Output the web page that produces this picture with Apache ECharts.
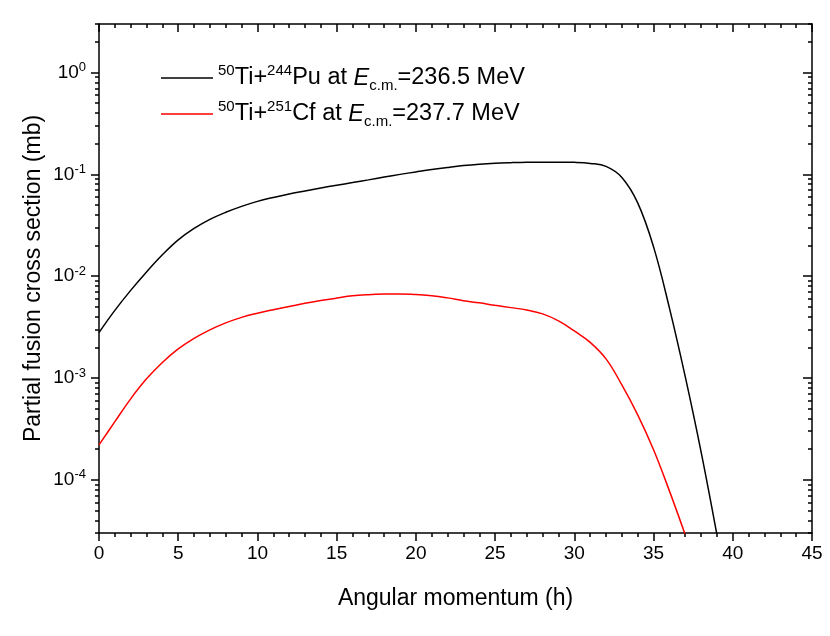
<!DOCTYPE html>
<html>
<head>
<meta charset="utf-8">
<script src="https://cdn.jsdelivr.net/npm/echarts@6/dist/echarts.min.js"></script>
<style>
  html, body { margin: 0; padding: 0; background: #fff; }
  #chart { width: 830px; height: 636px; }
</style>
</head>
<body>
<div id="chart"></div>
<script>
"use strict";

/*-----data-----*/
var momentum = [0, 1, 2, 3, 4, 5, 6, 7, 8, 9, 10, 11, 12, 13, 14, 15, 16, 17, 18, 19,
	20, 21, 22, 23, 24, 25, 26, 27, 28, 29, 30, 31, 32, 33, 34, 35, 36, 37, 38, 39];
var tiPu = [2.79e-3, 4.61e-3, 7.25e-3, 1.10e-2, 1.62e-2, 2.27e-2, 2.94e-2, 3.61e-2, 4.24e-2, 4.85e-2,
	5.43e-2, 5.94e-2, 6.43e-2, 6.88e-2, 7.36e-2, 7.83e-2, 8.30e-2, 8.83e-2, 9.42e-2, 0.100,
	0.1057, 0.1115, 0.1169, 0.1219, 0.1258, 0.1286, 0.1303, 0.1315, 0.1318, 0.1318,
	0.1312, 0.1282, 0.1197, 9.33e-2, 5.25e-2, 1.94e-2, 4.88e-3, 1.03e-3, 1.88e-4, 2.88e-5];
var tiCf = [2.20e-4, 3.72e-4, 6.24e-4, 9.8e-4, 1.42e-3, 1.93e-3, 2.45e-3, 2.97e-3, 3.48e-3, 3.94e-3,
	4.33e-3, 4.69e-3, 5.04e-3, 5.41e-3, 5.76e-3, 6.09e-3, 6.41e-3, 6.58e-3, 6.67e-3, 6.70e-3,
	6.59e-3, 6.43e-3, 6.12e-3, 5.74e-3, 5.47e-3, 5.17e-3, 4.91e-3, 4.65e-3, 4.26e-3, 3.64e-3,
	2.90e-3, 2.24e-3, 1.54e-3, 8.55e-4, 4.34e-4, 1.97e-4, 7.78e-5, 2.88e-5];
var majorY = [1e-4, 1e-3, 1e-2, 1e-1, 1];
var minorY = [3e-5, 4e-5, 5e-5, 6e-5, 7e-5, 8e-5, 9e-5,
	2e-4, 3e-4, 4e-4, 5e-4, 6e-4, 7e-4, 8e-4, 9e-4,
	2e-3, 3e-3, 4e-3, 5e-3, 6e-3, 7e-3, 8e-3, 9e-3,
	2e-2, 3e-2, 4e-2, 5e-2, 6e-2, 7e-2, 8e-2, 9e-2,
	0.2, 0.3, 0.4, 0.5, 0.6, 0.7, 0.8, 0.9, 2, 3];
var nameA = '50Ti+244Pu at Ec.m.=236.5 MeV';
var nameB = '50Ti+251Cf at Ec.m.=237.7 MeV';
var legendRich = {};
legendRich[nameA] = '{sup|50}{n|Ti+}{sup|244}{n|Pu at }{it|E}{sub|c.m.}{n|=236.5 MeV}';
legendRich[nameB] = '{sup|50}{n|Ti+}{sup|251}{n|Cf at }{it|E}{sub|c.m.}{n|=237.7 MeV}';

function pairs(xs, ys) {
	return ys.map(function (v, i) { return [xs[i], v]; });
}

var font = 'Liberation Sans, Arial, Helvetica, sans-serif';
var lineCol = '#000';

function yAxisDef(pos, ticks, len, inside, showLine, showLabel) {
	return {
		type: 'log',
		position: pos,
		min: 3e-5,
		max: 3,
		logBase: 10,
		axisLine: { show: showLine, onZero: false, lineStyle: { color: lineCol, width: 1.5 } },
		axisTick: { show: true, inside: inside, length: len, customValues: ticks,
			lineStyle: { color: lineCol, width: 1.5 } },
		axisLabel: {
			show: showLabel,
			customValues: ticks,
			margin: 13,
			fontFamily: font,
			formatter: function (v) {
				var e = Math.round(Math.log(v) / Math.LN10);
				return '{b|10}{s|' + (e < 0 ? '-' + (-e) : e) + '}';
			},
			rich: {
				b: { fontSize: 19, fontFamily: font, color: '#000' },
				s: { fontSize: 13, fontFamily: font, color: '#000', verticalAlign: 'top', padding: [0, 0, 10, 0] }
			}
		},
		splitLine: { show: false }
	};
}

function xAxisDef(pos, inside, showLabel) {
	return {
		type: 'value',
		position: pos,
		min: 0,
		max: 45,
		interval: 5,
		axisLine: { show: true, onZero: false, lineStyle: { color: lineCol, width: 1.5 } },
		axisTick: { show: true, inside: inside, length: 8, lineStyle: { color: lineCol, width: 1.5 } },
		minorTick: { show: true, splitNumber: 5, length: 4, lineStyle: { color: lineCol, width: 1.5 } },
		axisLabel: { show: showLabel, fontSize: 19, fontFamily: font, color: '#000', margin: 11 },
		splitLine: { show: false },
		name: showLabel ? 'Angular momentum (h)' : '',
		nameLocation: 'middle',
		nameGap: 54,
		nameTextStyle: { fontSize: 23, fontFamily: font, color: '#000' }
	};
}

var chart = echarts.init(document.getElementById('chart'), null, { renderer: 'canvas' });

var yMainLeft = yAxisDef('left', majorY, 8, false, true, true);
yMainLeft.name = 'Partial fusion cross section (mb)';
yMainLeft.nameLocation = 'middle';
yMainLeft.nameGap = 54;
yMainLeft.nameMoveOverlap = false;
yMainLeft.nameTextStyle = { fontSize: 23, fontFamily: font, color: '#000' };

var option = {
	animation: false,
	backgroundColor: '#fff',
	grid: { left: 99, right: 18, top: 24, bottom: 103 },
	legend: {
		orient: 'vertical',
		left: 156,
		top: 58,
		itemGap: 6,
		itemWidth: 52,
		itemHeight: 1.5,
		icon: 'rect',
		data: [nameA, nameB],
		formatter: function (name) { return legendRich[name]; },
		textStyle: {
			fontFamily: font,
			rich: {
				n: { fontSize: 23.5, fontFamily: font, color: '#000' },
				it: { fontSize: 23.5, fontFamily: font, fontStyle: 'italic', color: '#000' },
				sup: { fontSize: 15, fontFamily: font, color: '#000', verticalAlign: 'top', padding: [0, 0, 15, 0] },
				sub: { fontSize: 15, fontFamily: font, color: '#000', verticalAlign: 'bottom', padding: [11, 0, 0, 0] }
			}
		}
	},
	xAxis: [xAxisDef('bottom', false, true), xAxisDef('top', true, false)],
	yAxis: [
		yMainLeft,
		yAxisDef('left', minorY, 4, false, false, false),
		yAxisDef('right', majorY, 9, true, true, false),
		yAxisDef('right', minorY, 4, true, false, false)
	],
	series: [{
		name: nameA,
		type: 'line',
		data: pairs(momentum, tiPu),
		showSymbol: false,
		smooth: 0.4,
		clip: true,
		lineStyle: { color: '#000', width: 1.5 },
		itemStyle: { color: '#000' }
	}, {
		name: nameB,
		type: 'line',
		data: pairs(momentum, tiCf),
		showSymbol: false,
		smooth: 0.4,
		clip: true,
		lineStyle: { color: '#ff0000', width: 1.5 },
		itemStyle: { color: '#ff0000' }
	}]
};
chart.setOption(option);
</script>
</body>
</html>
